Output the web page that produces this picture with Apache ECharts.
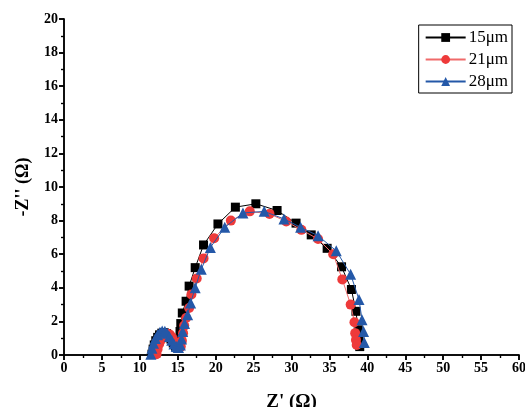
<!DOCTYPE html>
<html><head><meta charset="utf-8">
<script src="https://cdn.jsdelivr.net/npm/echarts@6/dist/echarts.min.js"></script>
<style>html,body{margin:0;padding:0;background:#fff}#c{width:525px;height:407px}</style>
</head><body><div id="c"></div>
<script>
var seriesNames = ['15μm', '21μm', '28μm'];
var xTicks = [0, 5, 10, 15, 20, 25, 30, 35, 40, 45, 50, 55, 60];
var yTicks = [0, 2, 4, 6, 8, 10, 12, 14, 16, 18, 20];
var data15 = [[11.6,0.05],[11.75,0.35],[11.9,0.6],[12.1,0.85],[12.35,1.05],[12.6,1.2],[12.9,1.3],[13.2,1.33],[13.5,1.28],[13.8,1.15],[14.1,0.95],[14.4,0.72],[14.7,0.52],[14.95,0.42],[15.1,0.6],[15.2,0.95],[15.3,1.4],[15.4,1.87],[15.6,2.5],[16.1,3.2],[16.5,4.1],[17.3,5.2],[18.4,6.55],[20.3,7.8],[22.6,8.8],[25.3,9.0],[28.1,8.6],[30.6,7.85],[32.6,7.15],[34.7,6.35],[36.6,5.25],[37.9,3.9],[38.5,2.6],[38.8,1.5],[38.9,1.0],[39.0,0.5]];
var data21 = [[12.2,0.05],[12.35,0.35],[12.55,0.65],[12.8,0.9],[13.05,1.1],[13.35,1.22],[13.65,1.27],[13.95,1.22],[14.25,1.05],[14.55,0.82],[14.85,0.6],[15.15,0.45],[15.4,0.5],[15.55,0.85],[15.7,1.3],[15.85,1.75],[16.1,2.2],[16.5,2.8],[16.8,3.6],[17.5,4.55],[18.4,5.75],[19.8,6.95],[22.0,8.0],[24.5,8.55],[27.1,8.4],[29.3,7.95],[31.3,7.45],[33.5,6.9],[35.5,6.0],[36.7,4.5],[37.8,3.0],[38.3,1.95],[38.4,1.3],[38.5,0.9],[38.6,0.6]];
var data28 = [[11.45,0.05],[11.6,0.4],[11.8,0.7],[12.05,0.98],[12.35,1.2],[12.65,1.36],[12.95,1.43],[13.3,1.42],[13.6,1.3],[13.9,1.1],[14.2,0.88],[14.5,0.66],[14.8,0.5],[15.1,0.45],[15.35,0.6],[15.5,0.95],[15.65,1.4],[15.9,1.88],[16.3,2.4],[16.7,3.1],[17.3,4.0],[18.1,5.1],[19.3,6.4],[21.2,7.6],[23.6,8.45],[26.4,8.55],[29.0,8.1],[31.2,7.6],[33.5,7.1],[35.9,6.2],[37.8,4.8],[38.9,3.3],[39.3,2.1],[39.5,1.4],[39.6,0.75]];

var chart = echarts.init(document.getElementById('c'), null, {renderer: 'canvas'});
var serif = '"Liberation Serif","Times New Roman",serif';
var axisLine = {show: true, lineStyle: {color: '#000', width: 1.5}};
function xAx(pos, labels) {
  return {
    type: 'value', position: pos, min: 0, max: 60, interval: 5,
    axisLine: axisLine,
    axisTick: {show: true, inside: !labels, length: 5, lineStyle: {color: '#000', width: 1.5}},
    minorTick: {show: true, splitNumber: 2, length: 3, lineStyle: {color: '#000', width: 1.2}},
    splitLine: {show: false},
    axisLabel: {show: labels, color: '#000', fontFamily: serif, fontWeight: 'bold', fontSize: 14, margin: 6},
    name: labels ? "Z' (Ω)" : '', nameLocation: 'middle', nameGap: 38,
    nameTextStyle: {color: '#000', fontFamily: serif, fontWeight: 'bold', fontSize: 19}
  };
}
function yAx(pos, labels) {
  return {
    type: 'value', position: pos, min: 0, max: 20, interval: 2,
    axisLine: axisLine,
    axisTick: {show: true, inside: !labels, length: 5, lineStyle: {color: '#000', width: 1.5}},
    minorTick: {show: true, splitNumber: 2, length: 3, lineStyle: {color: '#000', width: 1.2}},
    splitLine: {show: false},
    axisLabel: {show: labels, color: '#000', fontFamily: serif, fontWeight: 'bold', fontSize: 14, margin: 6},
    name: labels ? "-Z'' (Ω)" : '', nameLocation: 'middle', nameGap: 32, nameRotate: 90,
    nameTextStyle: {color: '#000', fontFamily: serif, fontWeight: 'bold', fontSize: 18}
  };
}
var colors = ['#000000', '#ee3a3a', '#2458a8'];
var lineColors = ['#000000', '#f06a6a', '#2458a8'];
var symbols = ['rect', 'circle', 'triangle'];
var sizes = [9, 10, 11];
var datasets = [data15, data21, data28];
var series = seriesNames.map(function (n, i) {
  return {
    name: n, type: 'line', data: datasets[i], xAxisIndex: 0, yAxisIndex: 0,
    symbol: symbols[i], symbolSize: sizes[i], showAllSymbol: true,
    itemStyle: {color: colors[i]},
    lineStyle: {color: lineColors[i], width: 1},
    z: 2 + i
  };
});
chart.setOption({
  animation: false,
  backgroundColor: '#fff',
  grid: {left: 64, right: 6, top: 19, bottom: 52, containLabel: false, outerBoundsMode: 'none'},
  xAxis: [xAx('bottom', true), xAx('top', false)],
  yAxis: [yAx('left', true), yAx('right', false)],
  legend: {
    orient: 'vertical', right: 13, top: 25,
    backgroundColor: '#fff', borderColor: '#000', borderWidth: 1, borderRadius: 0,
    padding: [4, 4, 3, 6], itemGap: 5, itemWidth: 40, itemHeight: 11,
    textStyle: {fontFamily: serif, fontSize: 17, color: '#000', padding: [0, 0, 0, -2]},
    data: seriesNames
  },
  series: series
});
</script></body></html>
